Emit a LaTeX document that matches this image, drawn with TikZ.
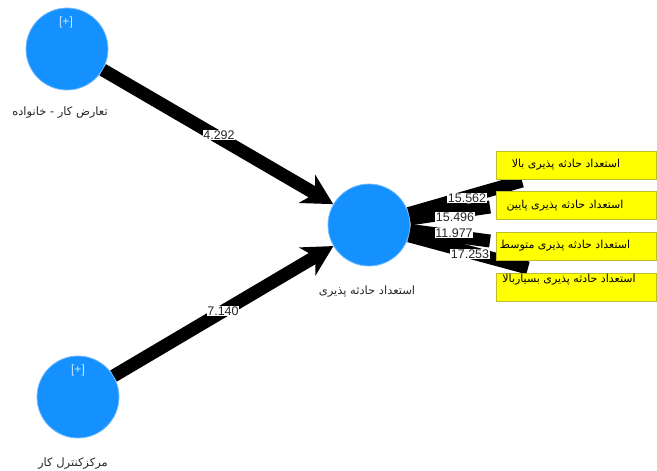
\documentclass[tikz,border=0pt]{standalone}
\usepackage{fontspec}
\setmainfont{Liberation Sans}
\newfontfamily\fa[Script=Arabic]{DejaVu Sans}
\TeXXeTstate=1
\usetikzlibrary{arrows.meta}
\definecolor{lvblue}{RGB}{20,144,255}
\definecolor{lvedge}{RGB}{120,190,255}
\definecolor{mvyellow}{RGB}{255,255,0}
\definecolor{mvedge}{RGB}{190,190,40}
\tikzset{
  lv/.style={circle,fill=lvblue,draw=lvedge,line width=0.8pt,minimum size=82pt,inner sep=0pt},
  mv/.style={rectangle,fill=mvyellow,draw=mvedge,line width=0.6pt,minimum width=160pt,minimum height=28pt,inner sep=0pt},
  pathline/.style={line width=13pt,draw=black,-{Stealth[length=30pt,width=32pt,inset=9pt]}},
  outline/.style={line width=13pt,draw=black},
  num/.style={fill=white,inner sep=0.8pt,font=\fontsize{12.5}{13}\selectfont,text=black!85},
  plus/.style={text=white!80!lvblue,font=\fontsize{12}{13}\selectfont},
  lvlab/.style={font=\fa\fontsize{11.5}{13}\selectfont,text=black!85},
  mvlab/.style={font=\fa\fontsize{11}{13}\selectfont}
}
\begin{document}
\begin{tikzpicture}[x=1pt,y=-1pt]
\useasboundingbox (0,0) rectangle (657,471);
% latent variables
\node[lv] (wfc) at (67,49) {};
\node[lv] (loc) at (78,397) {};
\node[lv] (acc) at (369,225) {};
\node[plus] (p1) at (66,22) {[+]};
\node[plus] (p2) at (78,370) {[+]};
\node[lvlab] (l1) at (60,113) {\beginR تعارض کار - خانواده\endR};
\node[lvlab] (l2) at (73,464) {\beginR مرکزکنترل کار\endR};
\node[lvlab] (l3) at (367,292) {\beginR استعداد حادثه پذیری\endR};
% target points for outer paths
\coordinate (t1) at (522,181);
\coordinate (t2) at (490,207);
\coordinate (t3) at (490,241);
\coordinate (t4) at (528,268);
\draw[outline] (acc) -- (t1);
\draw[outline] (acc) -- (t2);
\draw[outline] (acc) -- (t3);
\draw[outline] (acc) -- (t4);
% inner paths
\draw[pathline] (wfc) -- (acc);
\draw[pathline] (loc) -- (acc);
\node[num] (n1) at (219,135) {4.292};
\node[num] (n2) at (223,311) {7.140};
\node[num] (n3) at (467,198) {15.562};
\node[num] (n4) at (455,217) {15.496};
\node[num] (n5) at (454,233) {11.977};
\node[num] (n6) at (470,254) {17.253};
% indicators
\node[mv] (m1) at (576,165.5) {};
\node[mv] (m2) at (576,205.5) {};
\node[mv] (m3) at (576,246) {};
\node[mv] (m4) at (576,287) {};
\node[mvlab] at (566,165) {\beginR استعداد حادثه پذیری بالا\endR};
\node[mvlab] at (565,206) {\beginR استعداد حادثه پذیری پایین\endR};
\node[mvlab] at (565,246) {\beginR استعداد حادثه پذیری متوسط\endR};
\node[mvlab] at (569,280) {\beginR استعداد حادثه پذیری بسیاربالا\endR};
\end{tikzpicture}
\end{document}
